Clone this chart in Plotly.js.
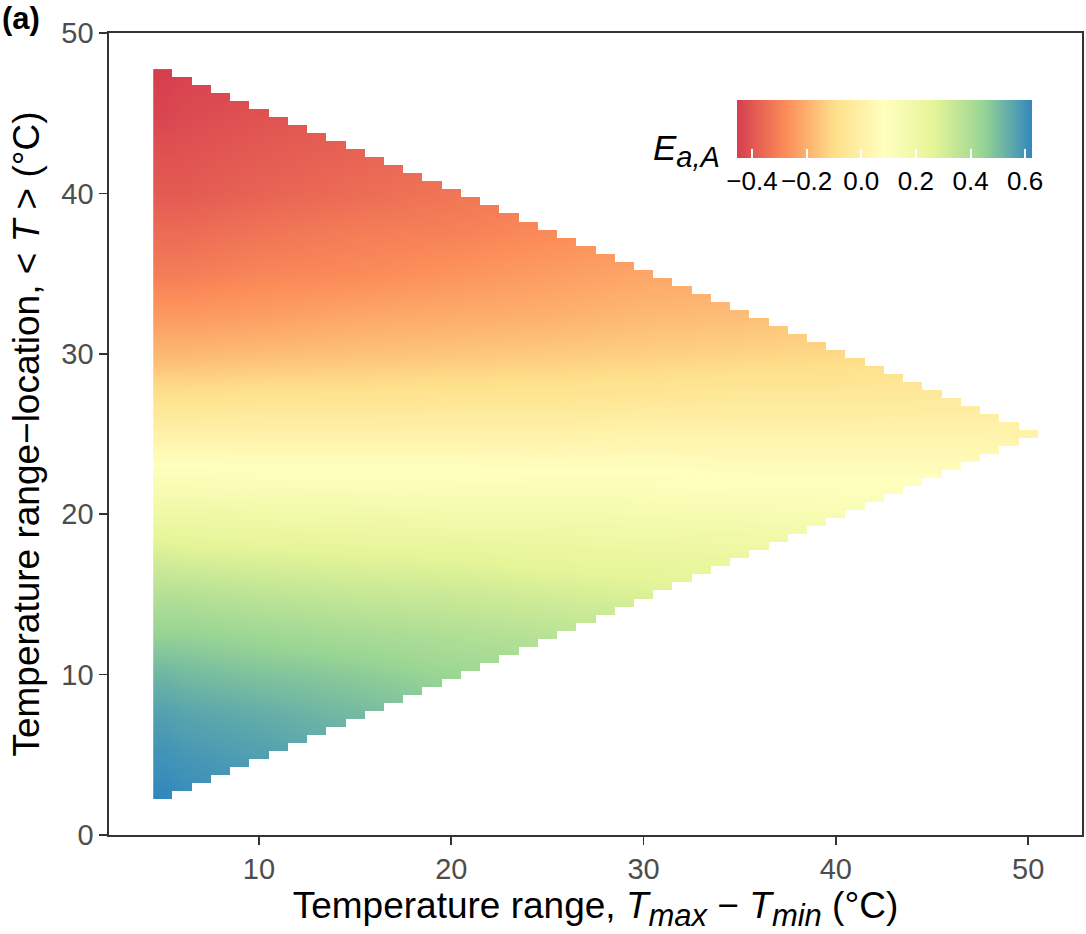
<!DOCTYPE html>
<html><head><meta charset="utf-8">
<script src="https://cdn.plot.ly/plotly-3.0.1.min.js"></script>
<style>html,body{margin:0;padding:0;background:#fff;}#plot{width:1086px;height:934px;}</style>
</head><body><div id="plot"></div>
<script>
// Read grid of E_a,A values (columns: temperature range; rows: mean temperature)
const rangeCenters = [5, 6, 10, 15, 20, 25, 30, 35, 40, 45, 49, 50];
const meanTCenters = [2.5, 3, 5, 7.5, 10, 12.5, 15, 17.5, 20, 22.5, 25, 27.5, 30, 32.5, 35, 37.5, 40, 42.5, 45, 47, 47.5];
const eaA = [
  [0.625, 0.61, 0.59, 0.56, 0.53, 0.50, 0.47, 0.44, 0.41, 0.38, 0.36, 0.35],
  [0.62, 0.61, 0.59, 0.56, 0.53, 0.50, 0.47, 0.44, 0.41, 0.38, 0.36, 0.35],
  [0.60, 0.59, 0.57, 0.54, 0.51, 0.49, 0.46, 0.43, 0.40, 0.37, 0.35, 0.34],
  [0.57, 0.56, 0.54, 0.51, 0.48, 0.46, 0.43, 0.40, 0.38, 0.35, 0.33, 0.32],
  [0.52, 0.51, 0.49, 0.47, 0.44, 0.42, 0.39, 0.37, 0.34, 0.32, 0.30, 0.30],
  [0.45, 0.45, 0.43, 0.41, 0.39, 0.37, 0.35, 0.33, 0.30, 0.28, 0.27, 0.26],
  [0.38, 0.38, 0.36, 0.34, 0.33, 0.31, 0.29, 0.27, 0.26, 0.24, 0.23, 0.22],
  [0.30, 0.29, 0.28, 0.27, 0.26, 0.24, 0.23, 0.22, 0.20, 0.19, 0.18, 0.18],
  [0.20, 0.20, 0.19, 0.18, 0.17, 0.17, 0.16, 0.15, 0.14, 0.13, 0.12, 0.12],
  [0.11, 0.11, 0.10, 0.10, 0.10, 0.09, 0.09, 0.08, 0.08, 0.08, 0.07, 0.07],
  [0.01, 0.01, 0.01, 0.01, 0.01, 0.01, 0.02, 0.02, 0.02, 0.02, 0.02, 0.02],
  [-0.09, -0.09, -0.08, -0.08, -0.07, -0.07, -0.06, -0.05, -0.05, -0.04, -0.04, -0.04],
  [-0.18, -0.18, -0.17, -0.16, -0.15, -0.14, -0.13, -0.12, -0.11, -0.10, -0.09, -0.09],
  [-0.25, -0.25, -0.24, -0.22, -0.21, -0.20, -0.18, -0.17, -0.15, -0.14, -0.13, -0.13],
  [-0.31, -0.31, -0.29, -0.28, -0.26, -0.24, -0.22, -0.21, -0.19, -0.17, -0.16, -0.16],
  [-0.35, -0.35, -0.33, -0.31, -0.30, -0.28, -0.26, -0.24, -0.22, -0.20, -0.18, -0.18],
  [-0.39, -0.39, -0.37, -0.35, -0.33, -0.31, -0.28, -0.26, -0.24, -0.22, -0.20, -0.20],
  [-0.41, -0.41, -0.39, -0.37, -0.35, -0.33, -0.30, -0.28, -0.26, -0.24, -0.22, -0.21],
  [-0.44, -0.43, -0.41, -0.39, -0.37, -0.34, -0.32, -0.30, -0.27, -0.25, -0.23, -0.23],
  [-0.45, -0.44, -0.43, -0.40, -0.38, -0.35, -0.33, -0.31, -0.28, -0.26, -0.24, -0.23],
  [-0.455, -0.45, -0.43, -0.41, -0.38, -0.36, -0.33, -0.31, -0.28, -0.26, -0.24, -0.24]
];

// Extent of the computed region: for each range, lowest and highest mean temperature
const ranges = [5,6,7,8,9,10,11,12,13,14,15,16,17,18,19,20,21,22,23,24,25,26,27,28,29,30,31,32,33,34,35,36,37,38,39,40,41,42,43,44,45,46,47,48,49,50];
const lowT = [2.5,3,3.5,4,4.5,5,5.5,6,6.5,7,7.5,8,8.5,9,9.5,10,10.5,11,11.5,12,12.5,13,13.5,14,14.5,15,15.5,16,16.5,17,17.5,18,18.5,19,19.5,20,20.5,21,21.5,22,22.5,23,23.5,24,24.5,25];
const highT = [47.5,47,46.5,46,45.5,45,44.5,44,43.5,43,42.5,42,41.5,41,40.5,40,39.5,39,38.5,38,37.5,37,36.5,36,35.5,35,34.5,34,33.5,33,32.5,32,31.5,31,30.5,30,29.5,29,28.5,28,27.5,27,26.5,26,25.5,25];
const tGrid = [2.5,3,3.5,4,4.5,5,5.5,6,6.5,7,7.5,8,8.5,9,9.5,10,10.5,11,11.5,12,12.5,13,13.5,14,14.5,15,15.5,16,16.5,17,17.5,18,18.5,19,19.5,20,20.5,21,21.5,22,22.5,23,23.5,24,24.5,25,25.5,26,26.5,27,27.5,28,28.5,29,29.5,30,30.5,31,31.5,32,32.5,33,33.5,34,34.5,35,35.5,36,36.5,37,37.5,38,38.5,39,39.5,40,40.5,41,41.5,42,42.5,43,43.5,44,44.5,45,45.5,46,46.5,47,47.5];

const xTickVals = [10, 20, 30, 40, 50];
const yTickVals = [0, 10, 20, 30, 40, 50];
const cbTickVals = [-0.4, -0.2, 0.0, 0.2, 0.4, 0.6];
const cbTickText = ['\u22120.4', '\u22120.2', '0.0', '0.2', '0.4', '0.6'];
const eMin = -0.455, eMax = 0.625;

const spectral = [
  [0, '#D53E4F'], [1/6, '#FC8D59'], [2/6, '#FEE08B'], [3/6, '#FFFFBF'],
  [4/6, '#E6F598'], [5/6, '#99D594'], [1, '#3288BD']
];

// white cover for cells outside the computed region (one padding cell on every side)
const cellW = ranges[1] - ranges[0];
const cellH = tGrid[1] - tGrid[0];
const maskX = [ranges[0] - cellW].concat(ranges, [ranges[ranges.length - 1] + cellW]);
const maskY = [tGrid[0] - cellH].concat(tGrid, [tGrid[tGrid.length - 1] + cellH]);
const maskZ = maskY.map(t => maskX.map((r, jj) => {
  const j = jj - 1;
  if (j < 0 || j >= ranges.length) return 1;
  return (t < lowT[j] || t > highT[j]) ? 1 : null;
}));

const FONT = 'Liberation Sans, Arial, Helvetica, sans-serif';

const heat = {
  type: 'heatmap', x: rangeCenters, y: meanTCenters, z: eaA,
  zsmooth: 'best', colorscale: spectral, zmin: eMin, zmax: eMax,
  hoverinfo: 'skip',
  colorbar: {
    orientation: 'h', x: 0.797, xanchor: 'center', y: 0.9165, yanchor: 'top',
    len: 295, lenmode: 'pixels', thickness: 58, thicknessmode: 'pixels',
    xpad: 0, ypad: 0, outlinewidth: 0,
    tickmode: 'array', tickvals: cbTickVals, ticktext: cbTickText,
    ticks: 'inside', ticklen: 9, tickwidth: 2, tickcolor: '#ffffff',
    tickfont: {family: FONT, size: 26, color: '#000'}
  }
};
const mask = {
  type: 'heatmap', x: maskX, y: maskY, z: maskZ, zsmooth: false,
  colorscale: [[0, '#ffffff'], [1, '#ffffff']], zmin: 0, zmax: 1,
  showscale: false, hoverinfo: 'skip'
};

const axisCommon = {
  showline: true, linecolor: '#333', linewidth: 1.6, mirror: true,
  ticks: 'outside', ticklen: 8, tickwidth: 1.8, tickcolor: '#333',
  showgrid: false, zeroline: false, automargin: false,
  tickfont: {family: FONT, size: 29, color: '#4d4d4d'}
};

const SUB = (s) => '<sub><span style="font-size:31px"><i>' + s + '</i></span></sub>';

const layout = {
  width: 1086, height: 934,
  margin: {l: 109, r: 4, t: 33, b: 99, pad: 0},
  paper_bgcolor: '#fff', plot_bgcolor: '#fff',
  showlegend: false,
  font: {family: FONT, color: '#000'},
  xaxis: Object.assign({}, axisCommon, {
    range: [2.2, 52.8], tickmode: 'array', tickvals: xTickVals,
    title: {text: 'Temperature range, <i>T</i>' + SUB('max') + ' \u2212 <i>T</i>' + SUB('min') + ' (°C)',
            font: {family: FONT, size: 37, color: '#000'}, standoff: 6}
  }),
  yaxis: Object.assign({}, axisCommon, {
    range: [0, 50], tickmode: 'array', tickvals: yTickVals,
    title: {text: 'Temperature range\u2212location, &lt; <i>T</i> &gt; (°C)',
            font: {family: FONT, size: 37, color: '#000'}, standoff: 10}
  }),
  annotations: [
    {xref: 'paper', yref: 'paper', x: 0.63, y: 0.854, xanchor: 'right', yanchor: 'middle',
     text: '<i>E</i><sub><span style="font-size:29px"><i>a,A</i></span></sub>', showarrow: false,
     font: {family: FONT, size: 35, color: '#000'}},
    {xref: 'paper', yref: 'paper', x: -0.112, y: 1.0187, xanchor: 'left', yanchor: 'middle',
     text: '<b>(a)</b>', showarrow: false,
     font: {family: FONT, size: 31, color: '#000'}}
  ]
};

Plotly.newPlot('plot', [heat, mask], layout, {displayModeBar: false, staticPlot: true});
</script>
</body></html>
